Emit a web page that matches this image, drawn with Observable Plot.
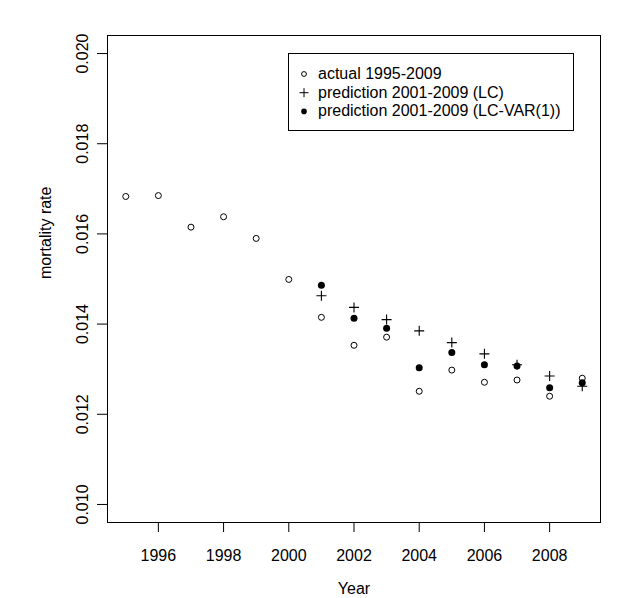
<!DOCTYPE html>
<html><head><meta charset="utf-8">
<script src="https://cdn.jsdelivr.net/npm/d3@7"></script>
<script src="https://cdn.jsdelivr.net/npm/@observablehq/plot@0.6"></script>
<style>
body{margin:0;background:#fff}
#wrap{position:relative;width:625px;height:598px;overflow:hidden;font-family:"Liberation Sans",Arial,sans-serif}
#wrap svg{position:absolute;left:0;top:0}
</style>
</head><body><div id="wrap"></div>
<script>
const years = [1995,1996,1997,1998,1999,2000,2001,2002,2003,2004,2005,2006,2007,2008,2009];
const actual = [0.01683,0.01685,0.01615,0.01638,0.01590,0.01499,0.01415,0.01353,0.01371,0.01251,0.01298,0.01271,0.01276,0.01240,0.01280];
const predYears = [2001,2002,2003,2004,2005,2006,2007,2008,2009];
const predLC = [0.01463,0.01437,0.01410,0.01385,0.01359,0.01334,0.01310,0.01285,0.01262];
const predLCVAR = [0.01486,0.01413,0.01391,0.01303,0.01337,0.01310,0.01307,0.01259,0.01270];
const xTicks = [1996,1998,2000,2002,2004,2006,2008];
const yTicks = [0.010,0.012,0.014,0.016,0.018,0.020];
const legendLabels = ["actual 1995-2009","prediction 2001-2009 (LC)","prediction 2001-2009 (LC-VAR(1))"];
const xLabel = "Year";
const yLabel = "mortality rate";

const actualData = years.map((y,i)=>({year:y, v:actual[i]}));
const lcData = predYears.map((y,i)=>({year:y, v:predLC[i]}));
const varData = predYears.map((y,i)=>({year:y, v:predLCVAR[i]}));

const plusSymbol = {draw(ctx, size){ const r = Math.sqrt(size/Math.PI); ctx.moveTo(-r,0); ctx.lineTo(r,0); ctx.moveTo(0,-r); ctx.lineTo(0,r);} };

const chart = Plot.plot({
  width: 625, height: 598,
  marginLeft: 107, marginRight: 25, marginTop: 35, marginBottom: 76,
  style: {fontFamily: '"Liberation Sans", Arial, sans-serif', fontSize: "16px", background: "white", color: "black"},
  x: {domain: [1994.44, 2009.56]},
  y: {domain: [0.0096, 0.0204]},
  marks: [
    Plot.frame({stroke: "black"}),
    Plot.axisX(xTicks, {tickSize: 10, tickPadding: 17, tickFormat: d => String(d), label: null, fontSize: 16}),
    Plot.axisY(yTicks, {tickSize: 10, tickPadding: 9.5, tickRotate: -90, tickFormat: d => d.toFixed(3), label: null, fontSize: 16}),
    Plot.text([xLabel], {frameAnchor: "bottom", lineAnchor: "top", dy: 60, fontSize: 16}),
    Plot.text([yLabel], {frameAnchor: "left", rotate: -90, lineAnchor: "bottom", dx: -57, fontSize: 16}),
    Plot.dot(actualData, {x: "year", y: "v", r: 3, stroke: "black", fill: "none", strokeWidth: 1}),
    Plot.dot(lcData, {x: "year", y: "v", r: 5, symbol: plusSymbol, stroke: "black", fill: "none", strokeWidth: 1.1}),
    Plot.dot(varData, {x: "year", y: "v", r: 3.5, fill: "black", stroke: "none"})
  ]
});
const wrap = document.getElementById("wrap");
wrap.appendChild(chart);

// legend overlay (R legend anchored at top-left = (2000, 0.020))
const sx = chart.scale("x"), sy = chart.scale("y");
const lx = Math.round(sx.apply(2000)), ly = Math.round(sy.apply(0.020));
const lw = 285, lh = 77;
const ns = "http://www.w3.org/2000/svg";
const lg = document.createElementNS(ns, "svg");
lg.setAttribute("width", lw + 2); lg.setAttribute("height", lh + 2);
lg.style.left = (lx - 0.5) + "px"; lg.style.top = (ly - 0.5) + "px";
let html = `<rect x="0.5" y="0.5" width="${lw}" height="${lh}" fill="white" stroke="black"/>`;
legendLabels.forEach((t, i) => {
  const base = 26 + i * 18.7;
  const cy = base - 5;
  if (i === 0) html += `<circle cx="16" cy="${cy}" r="2.4" fill="none" stroke="black"/>`;
  if (i === 1) html += `<path d="M11.5,${cy}H20.5M16,${cy-4.5}V${cy+4.5}" stroke="black" fill="none"/>`;
  if (i === 2) html += `<circle cx="16" cy="${cy}" r="2.8" fill="black"/>`;
  html += `<text x="30" y="${base}" font-size="16" font-family="Liberation Sans, Arial, sans-serif">${t}</text>`;
});
lg.innerHTML = html;
wrap.appendChild(lg);
</script>
</body></html>
